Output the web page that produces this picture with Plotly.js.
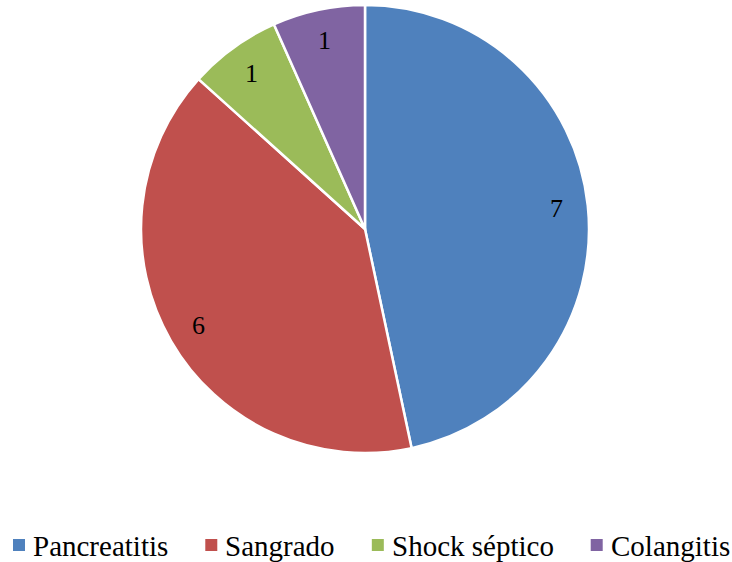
<!DOCTYPE html>
<html>
<head>
<meta charset="utf-8">
<script src="https://cdn.plot.ly/plotly-3.0.1.min.js"></script>
<style>
  html, body { margin: 0; padding: 0; background: #ffffff; }
  #chart { width: 732px; height: 562px; }
</style>
</head>
<body>
<div id="chart"></div>
<script>
// Causes and their counts
const categories = ['Pancreatitis', 'Sangrado', 'Shock séptico', 'Colangitis'];
const counts = [7, 6, 1, 1];
const sliceColors = ['#4F81BD', '#C0504D', '#9BBB59', '#8064A2'];

const W = 732, H = 562;
const cx = 365, cy = 229, R = 224;   // pie centre and radius in pixels
const SERIF = '"Liberation Serif", serif';
const labelSize = 26;
const legendSize = 29;

// Value labels placed along each slice's bisector, inside the slice
const total = counts.reduce((a, b) => a + b, 0);
let cum = 0;
const annotations = counts.map((v, i) => {
  const mid = (cum + v / 2) / total * 2 * Math.PI;  // clockwise from 12 o'clock
  cum += v;
  const r = R * 0.86;
  const px = cx + r * Math.sin(mid);
  const py = cy - r * Math.cos(mid);
  return {
    x: px / W, y: 1 - py / H, xref: 'paper', yref: 'paper',
    text: String(v), showarrow: false,
    xanchor: 'center', yanchor: 'middle',
    font: { family: SERIF, size: labelSize, color: '#000000' }
  };
});

// Legend row along the bottom: square swatch + category name, laid out by measured text width
const ctx = document.createElement('canvas').getContext('2d');
ctx.font = legendSize + 'px "Liberation Serif"';
const legendY = 545;        // vertical centre of the legend row (px from top)
const swatch = 12;          // swatch side
const swatchToText = 19;    // swatch left edge to text start
const entryGap = 38;        // text end to next swatch
const shapes = [];
let lx = 13;
categories.forEach((name, i) => {
  shapes.push({
    type: 'rect', xref: 'paper', yref: 'paper',
    x0: lx / W, x1: (lx + swatch) / W,
    y0: 1 - (legendY + swatch / 2) / H, y1: 1 - (legendY - swatch / 2) / H,
    fillcolor: sliceColors[i], line: { width: 0 }
  });
  const tx = lx + swatchToText;
  annotations.push({
    x: tx / W, y: 1 - (legendY + 1) / H, xref: 'paper', yref: 'paper',
    text: name, showarrow: false, xanchor: 'left', yanchor: 'middle',
    borderpad: 0,
    font: { family: SERIF, size: legendSize, color: '#000000' }
  });
  lx = tx + ctx.measureText(name).width + entryGap;
});

const trace = {
  type: 'pie',
  labels: categories,
  values: counts,
  sort: false,
  direction: 'clockwise',
  rotation: 0,
  textinfo: 'none',
  hoverinfo: 'label+value',
  marker: { colors: sliceColors, line: { color: '#ffffff', width: 2.5 } },
  domain: { x: [(cx - R) / W, (cx + R) / W], y: [1 - (cy + R) / H, 1 - (cy - R) / H] }
};

const layout = {
  width: W, height: H,
  margin: { l: 0, r: 0, t: 0, b: 0, autoexpand: false },
  paper_bgcolor: '#ffffff',
  showlegend: false,
  annotations: annotations,
  shapes: shapes
};

Plotly.newPlot('chart', [trace], layout, { displayModeBar: false, staticPlot: true });
</script>
</body>
</html>
